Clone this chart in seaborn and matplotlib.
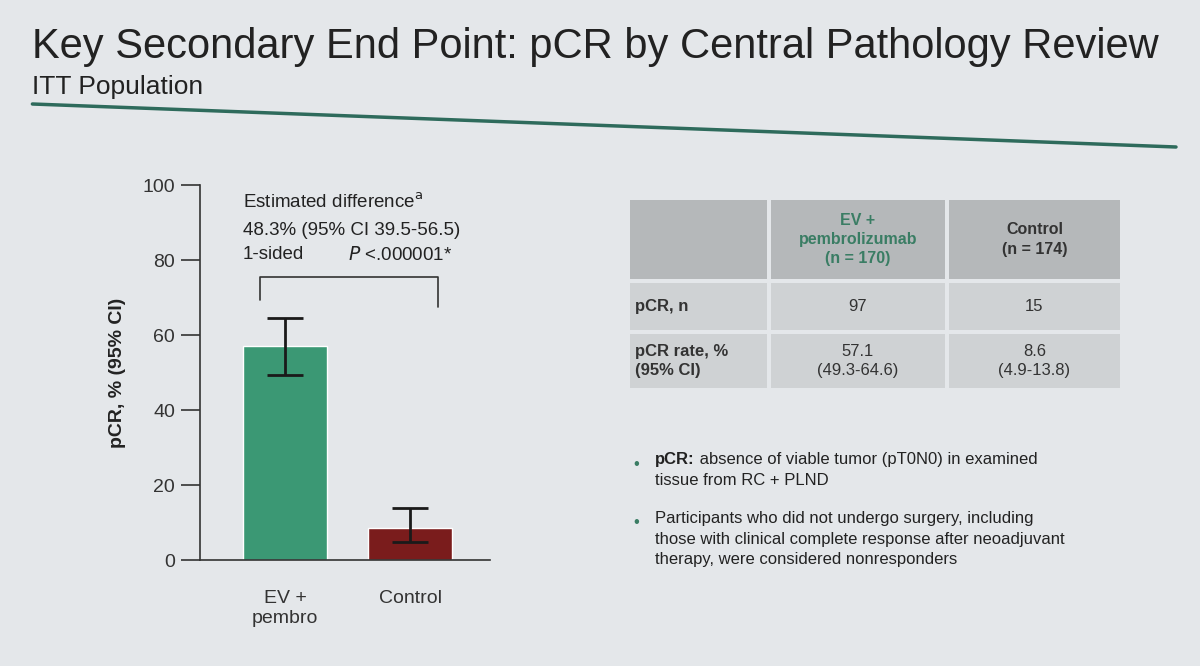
import numpy as np
import pandas as pd
import matplotlib.pyplot as plt
import seaborn as sns
from matplotlib.patches import Rectangle

# Datos
grupos = ["EV +\npembro", "Control"]
tasa = [57.1, 8.6]
ci_bajo = [49.3, 4.9]
ci_alto = [64.6, 13.8]
colores = ["#3b9874", "#7a1c1c"]

yticks = [0, 20, 40, 60, 80, 100]

tabla_cols = ["", "EV +\npembrolizumab\n(n = 170)", "Control\n(n = 174)"]
tabla_filas = [
    ["pCR, n", "97", "15"],
    ["pCR rate, %\n(95% CI)", "57.1\n(49.3-64.6)", "8.6\n(4.9-13.8)"],
]

bullets = [
    ("pCR:", [" absence of viable tumor (pT0N0) in examined", "tissue from RC + PLND"]),
    ("", ["Participants who did not undergo surgery, including",
          "those with clinical complete response after neoadjuvant",
          "therapy, were considered nonresponders"]),
]

sns.set_style("white")
plt.rcParams["font.family"] = ["Liberation Sans", "DejaVu Sans"]

fondo = "#e4e7ea"
texto = "#222222"

fig = plt.figure(figsize=(12, 6.66), dpi=100)
fig.patch.set_facecolor(fondo)

# Titulo
fig.text(0.027, 0.93, "Key Secondary End Point: pCR by Central Pathology Review",
         fontsize=30, color=texto, va="center", ha="left")
fig.text(0.027, 0.87, "ITT Population", fontsize=19, color=texto, va="center", ha="left")
fig.add_artist(plt.Line2D([0.027, 0.98], [1 - 104 / 666, 1 - 147 / 666], color="#2e6b5c", lw=2.5))

# Grafico de barras
ax = fig.add_axes([0.1667, 0.159, 0.2417, 0.563])
ax.set_facecolor(fondo)
df = pd.DataFrame({"grupo": grupos, "tasa": tasa})
sns.barplot(data=df, x="grupo", y="tasa", hue="grupo", palette=colores,
            width=0.67, legend=False, ax=ax, saturation=1)
x = np.arange(len(grupos))
yerr = [np.array(tasa) - np.array(ci_bajo), np.array(ci_alto) - np.array(tasa)]
ax.errorbar(x, tasa, yerr=yerr, fmt="none", ecolor="#1a1a1a",
            elinewidth=2, capsize=13, capthick=2)

ax.set_xlim(-0.68, 1.64)
ax.set_ylim(0, 100)
ax.set_yticks(yticks)
ax.set_xlabel("")
ax.set_ylabel("pCR, % (95% CI)", fontsize=14, fontweight="bold", color=texto, labelpad=12)
ax.tick_params(axis="y", left=True, length=14, width=1.2, color="#333333",
               labelcolor="#333333", labelsize=14, pad=4)
ax.tick_params(axis="x", bottom=False, labelsize=14, pad=18, labelcolor="#333333")
for s in ["top", "right"]:
    ax.spines[s].set_visible(False)
for s in ["left", "bottom"]:
    ax.spines[s].set_color("#333333")
    ax.spines[s].set_linewidth(1.2)

# Corchete y anotacion
ax.plot([-0.2, -0.2, 1.22, 1.22], [69.5, 75.5, 75.5, 67.5], color="#333333", lw=1.2, clip_on=False)
ax.text(-0.34, 95.5, "Estimated difference$^{\\mathrm{a}}$", fontsize=13.5, color=texto, va="center")
ax.text(-0.34, 88.0, "48.3% (95% CI 39.5-56.5)", fontsize=13.5, color=texto, va="center")
ax.text(-0.34, 81.5, "1-sided", fontsize=13.5, color=texto, va="center")
ax.text(0.5, 81.5, "$P$ <.000001*", fontsize=13.5, color=texto, va="center")

# Tabla
tx = [0.523, 0.641, 0.789, 0.935]
ty = [1 - 198 / 666, 1 - 281 / 666, 1 - 332 / 666, 1 - 390 / 666]
gap = 0.0016
for i in range(3):
    for j in range(3):
        col = "#b5b8ba" if i == 0 else "#cfd2d4"
        fig.add_artist(Rectangle((tx[j] + gap, ty[i + 1] + gap * 1.8),
                                 tx[j + 1] - tx[j] - 2 * gap, ty[i] - ty[i + 1] - 3.6 * gap,
                                 facecolor=col, edgecolor="none"))
for j in range(1, 3):
    fig.text((tx[j] + tx[j + 1]) / 2, (ty[0] + ty[1]) / 2, tabla_cols[j],
             ha="center", va="center", fontsize=11.5, fontweight="bold",
             color="#3a7d64" if j == 1 else "#333333", linespacing=1.35)
for i, fila in enumerate(tabla_filas):
    yc = (ty[i + 1] + ty[i + 2]) / 2
    fig.text(tx[0] + 0.006, yc, fila[0], ha="left", va="center", fontsize=12,
             fontweight="bold", color="#333333", linespacing=1.3)
    for j in range(1, 3):
        fig.text((tx[j] + tx[j + 1]) / 2, yc, fila[j], ha="center", va="center",
                 fontsize=12, color="#333333", linespacing=1.3)

# Viñetas
by = [1 - 464 / 666, 1 - 523 / 666]
paso = 0.031
for (neg, lineas), yb in zip(bullets, by):
    fig.text(0.528, yb, "•", fontsize=12, color="#3a7d64", va="center")
    for k, linea in enumerate(lineas):
        yk = yb - k * paso
        if k == 0 and neg:
            t = fig.text(0.546, yk, neg, fontsize=12, fontweight="bold", color=texto,
                         va="baseline")
            # resto de la linea justo despues de la parte en negrita
            ax.annotate(linea, xy=(1, 0), xycoords=t, fontsize=12, color=texto,
                        va="bottom", ha="left", annotation_clip=False)
        else:
            fig.text(0.546, yk, linea, fontsize=12, color=texto, va="baseline")

fig.savefig("out.png", dpi=100, facecolor=fig.get_facecolor())
